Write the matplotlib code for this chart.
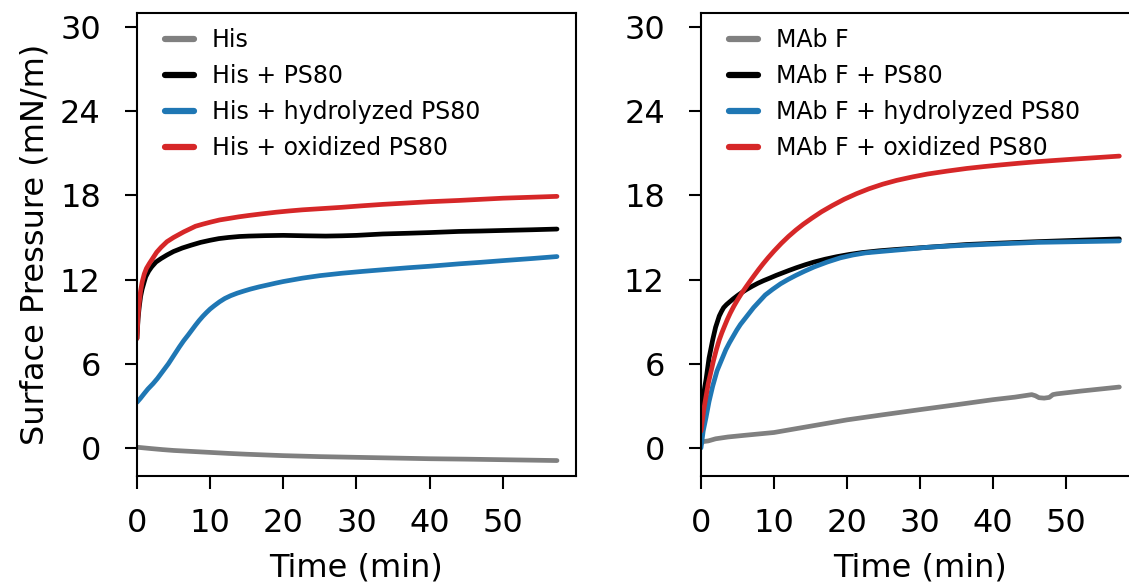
import matplotlib
matplotlib.use("Agg")
import matplotlib.pyplot as plt

# ---- data ----
xticks = [0, 10, 20, 30, 40, 50]
yticks = [0, 6, 12, 18, 24, 30]

left_labels = ["His", "His + PS80", "His + hydrolyzed PS80", "His + oxidized PS80"]
right_labels = ["MAb F", "MAb F + PS80", "MAb F + hydrolyzed PS80", "MAb F + oxidized PS80"]

# Left panel
his_t = [0, 1, 2, 3.5, 5, 7.5, 10, 12.5, 15, 20, 25, 30, 35, 40, 45, 50, 57.4]
his_v = [0.05, 0.0, -0.05, -0.12, -0.18, -0.25, -0.32, -0.39, -0.45, -0.55, -0.62, -0.67, -0.72, -0.77, -0.8, -0.84, -0.9]

his_ps_t = [0, 0.15, 0.3, 0.5, 0.7, 1.0, 1.2, 1.6, 2, 2.6, 3.3, 4.1, 5, 6.2, 7.4, 8.7, 10, 11.2, 12.5, 14,
            15.3, 17.5, 20, 23, 25.8, 28, 30, 33.6, 37, 40, 44, 47, 50, 54, 57.4]
his_ps_v = [7.8, 9.2, 10.0, 10.8, 11.3, 11.85, 12.2, 12.6, 12.9, 13.25, 13.5, 13.75, 14.0, 14.25, 14.45, 14.65, 14.8, 14.92, 15.0, 15.07,
            15.1, 15.13, 15.15, 15.12, 15.1, 15.12, 15.15, 15.25, 15.3, 15.35, 15.43, 15.46, 15.5, 15.55, 15.6]

his_hyd_t = [0, 0.5, 1, 1.5, 2.2, 2.8, 3.3, 3.8, 4.3, 4.8, 5.3, 5.8, 6.4, 7.0, 7.5, 8.0, 8.5, 9.0, 9.5, 10.0,
             10.6, 11.3, 12.0, 12.8, 13.7, 14.6, 15.5, 16.7, 17.9, 19, 20, 21.3, 22.6, 25, 28, 30.8, 33.6, 37, 40,
             44, 47, 50, 54, 57.4]
his_hyd_v = [3.25, 3.55, 3.88, 4.2, 4.58, 4.95, 5.3, 5.65, 6.0, 6.4, 6.8, 7.2, 7.65, 8.05, 8.4, 8.75, 9.08, 9.38, 9.65, 9.9,
             10.15, 10.42, 10.65, 10.85, 11.03, 11.18, 11.32, 11.48, 11.62, 11.75, 11.86, 11.98, 12.1, 12.28, 12.45, 12.58, 12.7, 12.84, 12.95,
             13.12, 13.23, 13.35, 13.5, 13.64]

his_ox_t = [0, 0.15, 0.3, 0.5, 0.7, 1.0, 1.3, 1.7, 2.2, 2.7, 3.3, 4.1, 5, 5.7, 6.4, 7.2, 8, 9, 10.1, 11.3,
            12.5, 13.9, 15.3, 17, 19, 20.8, 22.6, 25, 28, 30.8, 33.6, 37, 40, 44, 47, 50, 54, 57.4]
his_ox_v = [7.8, 9.4, 10.3, 11.2, 11.8, 12.4, 12.8, 13.15, 13.55, 13.95, 14.3, 14.7, 15.0, 15.2, 15.4, 15.6, 15.8, 15.95, 16.1, 16.25,
            16.35, 16.47, 16.57, 16.68, 16.8, 16.89, 16.97, 17.05, 17.15, 17.26, 17.36, 17.46, 17.55, 17.64, 17.72, 17.8, 17.87, 17.93]

# Right panel
mab_t = [0, 0.3, 1, 2, 3.7, 6, 10, 15, 20, 25, 30, 35, 40, 43, 45.3, 45.8, 46.3, 47, 47.7, 48.2, 48.7, 52, 57.3]
mab_v = [0.3, 0.45, 0.5, 0.65, 0.78, 0.9, 1.1, 1.55, 2.0, 2.37, 2.73, 3.08, 3.44, 3.62, 3.8, 3.72, 3.58, 3.55, 3.6, 3.8, 3.85, 4.05, 4.34]

mab_ps_t = [0, 0.15, 0.3, 0.5, 0.7, 0.9, 1.1, 1.35, 1.6, 1.8, 2.0, 2.25, 2.5, 2.8, 3.1, 3.5, 3.9, 4.4, 5.0, 5.6,
            6.2, 7.0, 7.8, 8.6, 9.4, 10.3, 11.2, 12.1, 13.1, 14.3, 15.5, 17, 18.6, 20.3, 22.0, 24.4, 26.8, 29, 31.0, 33.7,
            36.4, 41, 46, 51.5, 57.3]
mab_ps_v = [2.0, 2.8, 3.6, 4.3, 4.9, 5.65, 6.4, 7.05, 7.7, 8.15, 8.6, 9.0, 9.4, 9.72, 10.0, 10.22, 10.4, 10.62, 10.86, 11.08,
            11.28, 11.52, 11.74, 11.93, 12.1, 12.3, 12.48, 12.66, 12.85, 13.06, 13.25, 13.45, 13.63, 13.79, 13.92, 14.05, 14.15, 14.23, 14.3, 14.4,
            14.5, 14.6, 14.7, 14.8, 14.9]

mab_hyd_t = [0, 0.15, 0.3, 0.5, 0.7, 0.9, 1.1, 1.35, 1.6, 1.9, 2.2, 2.6, 3.0, 3.4, 3.9, 4.4, 4.9, 5.4, 6.0, 6.6,
             7.2, 8.0, 8.8, 9.8, 10.9, 11.9, 13.0, 14.2, 15.5, 17.3, 19.1, 20.8, 22.5, 24.6, 26.8, 29, 31, 33.7, 36.4, 41,
             46, 51.5, 57.3]
mab_hyd_v = [0.0, 0.6, 1.2, 1.7, 2.2, 2.75, 3.3, 3.85, 4.4, 4.95, 5.5, 6.0, 6.5, 7.0, 7.5, 7.95, 8.4, 8.8, 9.2, 9.6,
             10.0, 10.45, 10.9, 11.3, 11.7, 12.0, 12.3, 12.6, 12.9, 13.25, 13.55, 13.75, 13.9, 14.0, 14.1, 14.2, 14.3, 14.38, 14.45, 14.55,
             14.65, 14.7, 14.75]

mab_ox_t = [0, 0.2, 0.4, 0.7, 1.0, 1.35, 1.7, 2.1, 2.5, 2.85, 3.2, 3.6, 4.0, 4.5, 5.0, 5.6, 6.2, 6.7, 7.3, 7.9,
            8.5, 9.2, 10.0, 11.0, 12.0, 13.0, 14.0, 15.2, 16.5, 18.0, 19.6, 21.3, 23.0, 24.9, 26.8, 29, 31.0, 33.7, 36.4, 38.7,
            41.0, 43.5, 46, 48.7, 51.5, 54.4, 57.3]
mab_ox_v = [1.2, 2.0, 2.8, 3.7, 4.6, 5.4, 6.2, 7.0, 7.7, 8.2, 8.65, 9.15, 9.6, 10.1, 10.55, 11.05, 11.5, 11.87, 12.3, 12.72,
            13.12, 13.56, 14.03, 14.58, 15.08, 15.53, 15.94, 16.38, 16.83, 17.28, 17.72, 18.12, 18.47, 18.8, 19.07, 19.32, 19.52, 19.73, 19.92, 20.05,
            20.17, 20.29, 20.4, 20.5, 20.6, 20.7, 20.8]

colors = ["#808080", "#000000", "#1f77b4", "#d62728"]

plt.rcParams["font.family"] = ["DejaVu Sans"]

fig = plt.figure(figsize=(11.29, 5.88), dpi=100)
axL = fig.add_axes([0.1213, 0.1905, 0.3889, 0.7874])
axR = fig.add_axes([0.6209, 0.1905, 0.3880, 0.7874])

left_series = [(his_t, his_v), (his_ps_t, his_ps_v), (his_hyd_t, his_hyd_v), (his_ox_t, his_ox_v)]
right_series = [(mab_t, mab_v), (mab_ps_t, mab_ps_v), (mab_hyd_t, mab_hyd_v), (mab_ox_t, mab_ox_v)]

for ax, series, labels in [(axL, left_series, left_labels), (axR, right_series, right_labels)]:
    for (t, v), lab, c in zip(series, labels, colors):
        ax.plot(t, v, color=c, lw=3.4, label=lab, solid_capstyle="round", solid_joinstyle="round")
    ax.set_xlim(0, 60)
    ax.set_ylim(-2, 31)
    ax.set_xticks(xticks)
    ax.set_yticks(yticks)
    ax.tick_params(axis="both", which="major", labelsize=23, length=9, width=1.5, direction="out")
    ax.tick_params(axis="y", pad=17)
    ax.tick_params(axis="x", pad=14)
    for s in ax.spines.values():
        s.set_linewidth(1.5)
    ax.set_xlabel("Time (min)", fontsize=23, labelpad=10)
    leg = ax.legend(loc="upper left", bbox_to_anchor=(0.042, 0.987), borderaxespad=0.0,
                    frameon=False, fontsize=17, handlelength=1.25,
                    handletextpad=0.75, labelspacing=0.5)
    for h in leg.get_lines():
        h.set_linewidth(4.5)

axL.set_ylabel("Surface Pressure (mN/m)", fontsize=23, labelpad=7)

fig.savefig("out.png", dpi=100)
